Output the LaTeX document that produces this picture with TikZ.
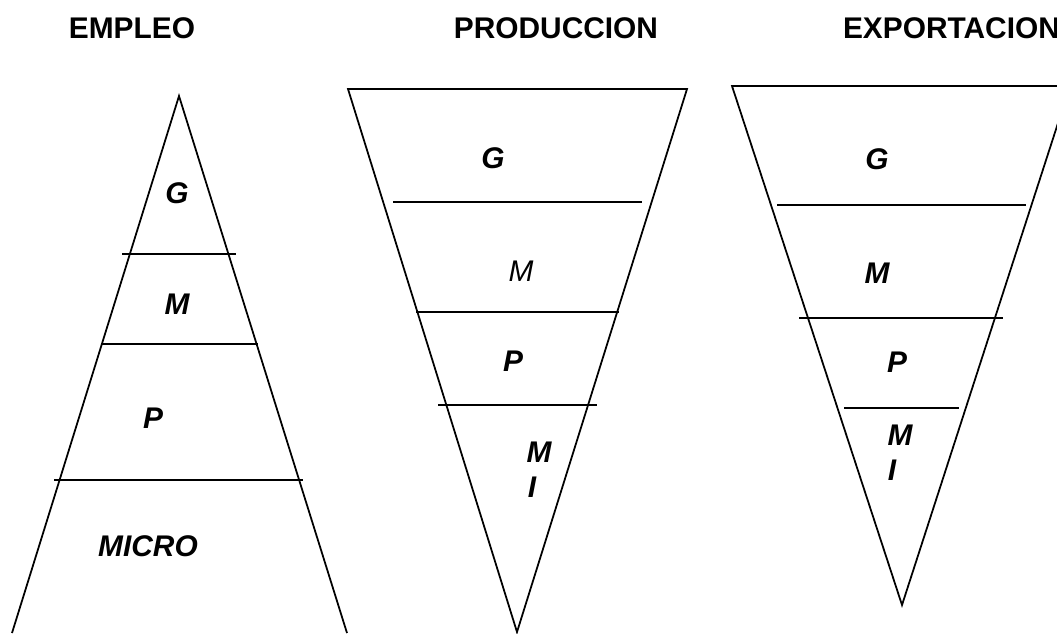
\documentclass[tikz,border=0pt]{standalone}
\usepackage{fontspec}
\setmainfont{Liberation Sans}
\newcommand*{\sizefont}{\fontsize{17}{20}\selectfont}
\definecolor{ink}{rgb}{0.00,0.00,0.00}
\usepackage{tikz}
\tikzstyle{base}=[x=0.02cm, y=-0.02cm, line width=1pt, inner sep=0pt, outer sep=0pt]
\tikzstyle{title}=[ink, font=\sizefont\bfseries]
\tikzstyle{band}=[ink, font=\sizefont\bfseries\itshape]
\tikzstyle{bandthin}=[ink, font=\sizefont\itshape]

\begin{document}
\begin{tikzpicture}[base]
    \path [use as bounding box] (0,0) rectangle (1057,633);
        % EMPLEO
        \draw [ink] (12,633) -- (179,96) -- (347,633);
        \draw [ink] (122,254) -- (236,254);
        \draw [ink] (101,344) -- (258,344);
        \draw [ink] (54,480) -- (303,480);
        \node [title] (empleo) at (132,28) {EMPLEO};
        \node [band] (eg) at (177,193) {G};
        \node [band] (em) at (177,304) {M};
        \node [band] (ep) at (153,418) {P};
        \node [band] (emicro) at (148,546) {MICRO};
        % PRODUCCION
        \draw [ink] (348,89) -- (687,89) -- (517,632) -- cycle;
        \draw [ink] (393,202) -- (642,202);
        \draw [ink] (416,312) -- (619,312);
        \draw [ink] (438,405) -- (597,405);
        \node [title] (produccion) at (556,28) {PRODUCCION};
        \node [band] (pg) at (493,158) {G};
        \node [bandthin] (pm) at (521,271) {M};
        \node [band] (pp) at (513,361) {P};
        \node [band] (pmi) at (539,452) {M};
        \node [band] (pi) at (532,487) {I};
        % EXPORTACION
        \draw [ink] (732,86) -- (1070,86) -- (902,605) -- cycle;
        \draw [ink] (777,205) -- (1026,205);
        \draw [ink] (799,318) -- (1003,318);
        \draw [ink] (844,408) -- (959,408);
        \node [title, anchor=west] (exportacion) at (843,28) {EXPORTACION};
        \node [band] (xg) at (877,159) {G};
        \node [band] (xm) at (877,273) {M};
        \node [band] (xp) at (897,362) {P};
        \node [band] (xmi) at (900,435) {M};
        \node [band] (xi) at (892,470) {I};
    \end{tikzpicture}
\end{document}
